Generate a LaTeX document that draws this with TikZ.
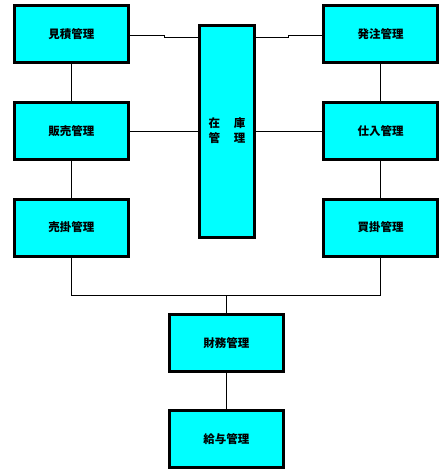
\documentclass[tikz,border=0pt]{standalone}
\usepackage{fontspec}
\newfontfamily\jp{Noto Sans CJK JP}
\definecolor{aqua}{RGB}{0,255,255}
\begin{document}
\begin{tikzpicture}[x=1pt,y=-1pt,
  box/.style={draw=black,line width=3pt,fill=aqua,minimum width=114pt,minimum height=57pt,inner sep=0pt,
    font=\jp\bfseries\fontsize{11.5}{15}\selectfont},
  conn/.style={draw=black,line width=0.8pt}]
\useasboundingbox (0,0) rectangle (448,475);
\node[box] (mitsu) at (71.5,34) {見積管理};
\node[box] (hanbai) at (71.5,131) {販売管理};
\node[box] (urikake) at (71.5,227.5) {売掛管理};
\node[box] (hatchu) at (380.5,34) {発注管理};
\node[box] (shiire) at (380.5,131) {仕入管理};
\node[box] (kaikake) at (380.5,227.5) {買掛管理};
\node[box,minimum width=55pt,minimum height=212pt,align=center] (zaiko) at (227,131) {在\hspace{1.2em}庫\\管\hspace{1.2em}理};
\node[box] (zaimu) at (226.3,343.3) {財務管理};
\node[box] (kyuyo) at (226.3,439.3) {給与管理};
\coordinate (s1) at (164,35);
\coordinate (s2) at (164,37.3);
\coordinate (s3) at (288.3,37.3);
\coordinate (s4) at (288.3,35);
\coordinate (bus) at (226.3,295);
\draw[conn] (mitsu.east |- s1) -- (s1) -- (s2) -- (zaiko.west |- s2);
\draw[conn] (zaiko.east |- s3) -- (s3) -- (s4) -- (hatchu.west |- s4);
\draw[conn] (hanbai.east) -- (zaiko.west |- hanbai.east);
\draw[conn] (shiire.west) -- (zaiko.east |- shiire.west);
\draw[conn] (mitsu.south) -- (hanbai.north);
\draw[conn] (hanbai.south) -- (urikake.north);
\draw[conn] (hatchu.south) -- (shiire.north);
\draw[conn] (shiire.south) -- (kaikake.north);
\draw[conn] (urikake.south) -- (urikake.south |- bus) -- (kaikake.south |- bus) -- (kaikake.south);
\draw[conn] (bus) -- (zaimu.north);
\draw[conn] (zaimu.south) -- (kyuyo.north);
\end{tikzpicture}
\end{document}
